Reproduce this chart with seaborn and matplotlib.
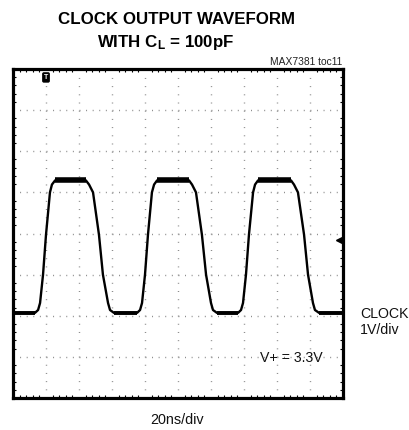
import matplotlib
matplotlib.use("Agg")
import matplotlib.pyplot as plt
import seaborn as sns
import pandas as pd
import numpy as np

# waveform read from the scope shot: time (ns), clock voltage (V)
time_ns = [0.0,
           13.3, 15.2, 16.4, 18.2, 20.0, 22.4, 23.6, 25.5,
           44.2, 46.1, 48.5, 52.1, 54.5, 57.6, 58.8, 61.2,
           75.2, 77.0, 78.2, 80.0, 81.8, 84.2, 85.5, 87.3,
           106.7, 108.5, 110.9, 114.5, 117.0, 120.0, 121.2, 123.6,
           136.4, 138.2, 139.4, 141.2, 143.0, 145.5, 146.7, 148.5,
           168.5, 170.3, 172.7, 176.4, 178.8, 181.8, 183.0, 185.5,
           200.0]
clock_v = [0.0,
           0.0, 0.07, 0.24, 0.93, 1.90, 2.93, 3.12, 3.22,
           3.22, 3.12, 2.93, 1.90, 0.93, 0.24, 0.07, 0.0,
           0.0, 0.07, 0.24, 0.93, 1.90, 2.93, 3.12, 3.22,
           3.22, 3.12, 2.93, 1.90, 0.93, 0.24, 0.07, 0.0,
           0.0, 0.07, 0.24, 0.93, 1.90, 2.93, 3.12, 3.22,
           3.22, 3.12, 2.93, 1.90, 0.93, 0.24, 0.07, 0.0,
           0.0]

title_1 = "CLOCK OUTPUT WAVEFORM"
title_2 = r"WITH C$_{\mathbf{L}}$ = 100pF"
chart_id = "MAX7381 toc11"
ch_label = "CLOCK\n1V/div"
time_label = "20ns/div"
supply_note = "V+ = 3.3V"

df = pd.DataFrame({"t": time_ns, "v": clock_v})

sns.set_theme(style="white")
plt.rcParams["font.family"] = ["Liberation Sans", "DejaVu Sans"]
plt.rcParams["text.color"] = "black"
plt.rcParams["mathtext.fontset"] = "custom"
plt.rcParams["mathtext.rm"] = "Liberation Sans:bold"
plt.rcParams["mathtext.bf"] = "Liberation Sans:bold"
plt.rcParams["mathtext.it"] = "Liberation Sans:bold"

fig = plt.figure(figsize=(4.09, 4.30), dpi=100)
ax = fig.add_axes([13 / 409, 1 - 398 / 430, 330 / 409, 329 / 430])

y_lo, y_hi = -2.07, 5.93

# scope graticule
ax.set_xlim(0, 200)
ax.set_ylim(y_lo, y_hi)
ax.set_xticks(np.arange(0, 201, 20))
ax.set_yticks(np.arange(y_lo, y_hi + 0.01, 1.0))
ax.set_xticks(np.arange(0, 201, 4), minor=True)
ax.set_yticks(np.arange(y_lo, y_hi + 0.01, 0.2), minor=True)
ax.set_xticklabels([])
ax.set_yticklabels([])
ax.tick_params(which="major", length=0)
ax.tick_params(which="minor", direction="in", length=2.5, width=0.8,
               color="black", top=True, right=True, bottom=True, left=True)
ax.xaxis.grid(True, color="#8a8a8a", linewidth=1.0, linestyle=(0, (0.7, 5.2)))
ax.yaxis.grid(True, color="#8a8a8a", linewidth=1.0, linestyle=(0, (0.7, 4.05)))
for s in ax.spines.values():
    s.set_color("black")
    s.set_linewidth(2.3)

# trace
sns.lineplot(data=df, x="t", y="v", sort=False, estimator=None, ax=ax,
             color="black", linewidth=1.7, zorder=3)
# noisy flat tops / bottoms look thicker on the scope
hi = df["v"].max()
top_v = df["v"].where(df["v"] >= hi - 0.01)
low_v = df["v"].where(df["v"] <= 0.0)
ax.plot(df["t"], top_v, color="black", linewidth=4.0, solid_capstyle="butt", zorder=3)
ax.plot(df["t"], low_v, color="black", linewidth=2.8, solid_capstyle="butt", zorder=3)
ax.set_xlabel("")
ax.set_ylabel("")

# trigger position and level markers
ax.text(20, y_hi - 0.12, "T", color="white", fontsize=5, fontweight="bold",
        ha="center", va="top",
        bbox=dict(boxstyle="round,pad=0.15", fc="black", ec="black"))
ax.plot([197.5], [1.76], marker="<", color="black", markersize=4.5,
        clip_on=False, zorder=4)

ax.text(187.9, -1.10, supply_note, fontsize=10.2, ha="right", va="center",
        color="#111111")

# titles and labels
fig.text(176.5 / 409, 1 - 19 / 430, title_1, fontsize=12.2, fontweight="bold",
         ha="center", va="center")
fig.text(165.5 / 409, 1 - 42 / 430, title_2, fontsize=12.2, fontweight="bold",
         ha="center", va="center")
fig.text(342 / 409, 1 - 62 / 430, chart_id, fontsize=7.4, ha="right",
         va="center", color="#222222")
fig.text(360 / 409, 1 - 322 / 430, ch_label, fontsize=10.2, ha="left",
         va="center", linespacing=1.25, color="#111111")
fig.text(177 / 409, 1 - 420 / 430, time_label, fontsize=10.4, ha="center",
         va="center", color="#111111")

fig.savefig("out.png", dpi=100)
